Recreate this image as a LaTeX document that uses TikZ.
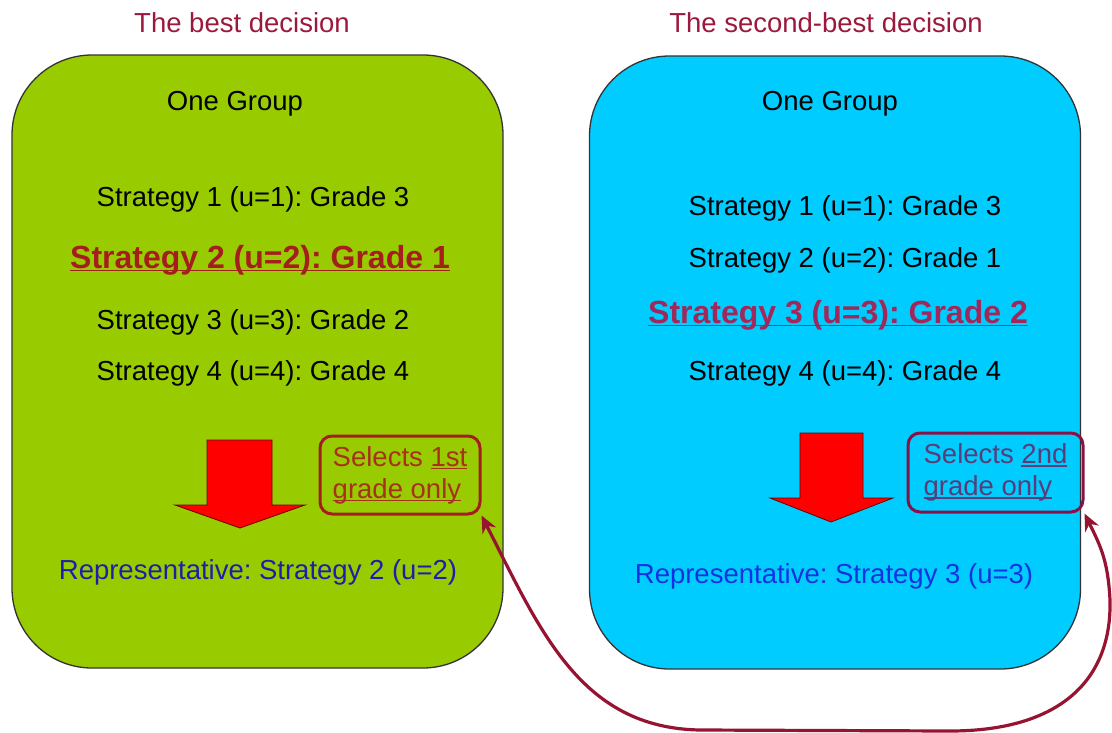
\documentclass[tikz,border=0pt]{standalone}
\usepackage{fontspec}
\setmainfont{Liberation Sans}
\usetikzlibrary{arrows.meta}

\definecolor{bestgreen}{RGB}{153,204,0}
\definecolor{secondcyan}{RGB}{0,204,255}
\definecolor{titlered}{RGB}{155,25,60}
\definecolor{pickred}{RGB}{165,30,30}
\definecolor{pickplum}{RGB}{160,40,90}
\definecolor{selbrown}{RGB}{165,50,25}
\definecolor{selplum}{RGB}{90,60,120}
\definecolor{repblue}{RGB}{30,30,170}
\definecolor{repbright}{RGB}{20,50,225}
\definecolor{linkred}{RGB}{150,20,50}

% underline that runs through the descenders
\newcommand{\undl}[1]{\setbox0\hbox{#1}\rlap{\rule[-3pt]{\wd0}{1.6pt}}\box0}
\frenchspacing

\begin{document}
\begin{tikzpicture}[x=1pt,y=-1pt,
    txt/.style={font=\fontsize{27.5}{32}\selectfont, inner sep=0pt},
    pick/.style={font=\fontsize{32}{36}\selectfont\bfseries, inner sep=0pt},
    groupbox/.style={draw=black!80, line width=1.3pt, rounded corners=80pt,
        minimum width=491pt, minimum height=613pt, inner sep=0pt},
    selbox/.style={txt, draw, line width=3pt, rounded corners=12pt, align=left},
    downarrow/.style={fill=red, draw=red!40!black, line width=0.8pt},
    link/.style={linkred, line width=3.2pt, {Stealth[length=17pt,width=15pt]}-{Stealth[length=17pt,width=15pt]}}]

    \useasboundingbox (0,0) rectangle (1112,732);

    % the two groups
    \node[groupbox, fill=bestgreen] (best) at (257.5,361.5) {};
    \node[groupbox, fill=secondcyan] (second) at (835,362.5) {};

    \node[txt, titlered] (titlebest) at (242,23) {The best decision};
    \node[txt, titlered] (titlesecond) at (826,23) {The second-best decision};

    \node[txt] (groupbest) at (235,104) {One Group};
    \node[txt] (groupsecond) at (830,104) {One Group};

    % strategies of the first group
    \foreach \u/\g/\y in {1/3/199, 3/2/322, 4/4/373}
        \node[txt] (b\u) at (253,\y) {Strategy \u\ (u=\u): Grade \g};
    \node[pick, pickred] (b2) at (260,260) {\undl{Strategy 2 (u=2): Grade 1}};

    % strategies of the second group
    \foreach \u/\g/\y in {1/3/208, 2/1/260, 4/4/373}
        \node[txt] (s\u) at (845,\y) {Strategy \u\ (u=\u): Grade \g};
    \node[pick, pickplum] (s3) at (838,315) {\undl{Strategy 3 (u=3): Grade 2}};

    % block arrows
    \draw[downarrow] (207,440) -- (272,440) -- (272,505) -- (305,505) -- (240,528)
        -- (175,505) -- (207,505) -- cycle;
    \draw[downarrow] (800,433) -- (863,433) -- (863,498) -- (893,498) -- (831,522)
        -- (770,498) -- (800,498) -- cycle;

    \node[selbox, selbrown, draw=pickred, minimum width=160pt, minimum height=78pt]
        (sel1) at (400,475) {Selects \undl{1st}\\\undl{grade only}};
    \node[selbox, selplum, draw=linkred!90!blue, minimum width=175pt, minimum height=79pt]
        (sel2) at (995.5,472.5) {Selects \undl{2nd}\\\undl{grade only}};

    \node[txt, repblue] (repbest) at (258,572) {Representative: Strategy 2 (u=2)};
    \node[txt, repbright] (repsecond) at (834,576) {Representative: Strategy 3 (u=3)};

    % link between the two selections
    \draw[link] (sel1.south east) .. controls (540,630) and (580,728) .. (700,730)
        -- (950,731) .. controls (1060,731) and (1112,680) .. (1110,600)
        .. controls (1108,560) and (1100,545) .. (sel2.south east);
\end{tikzpicture}
\end{document}
